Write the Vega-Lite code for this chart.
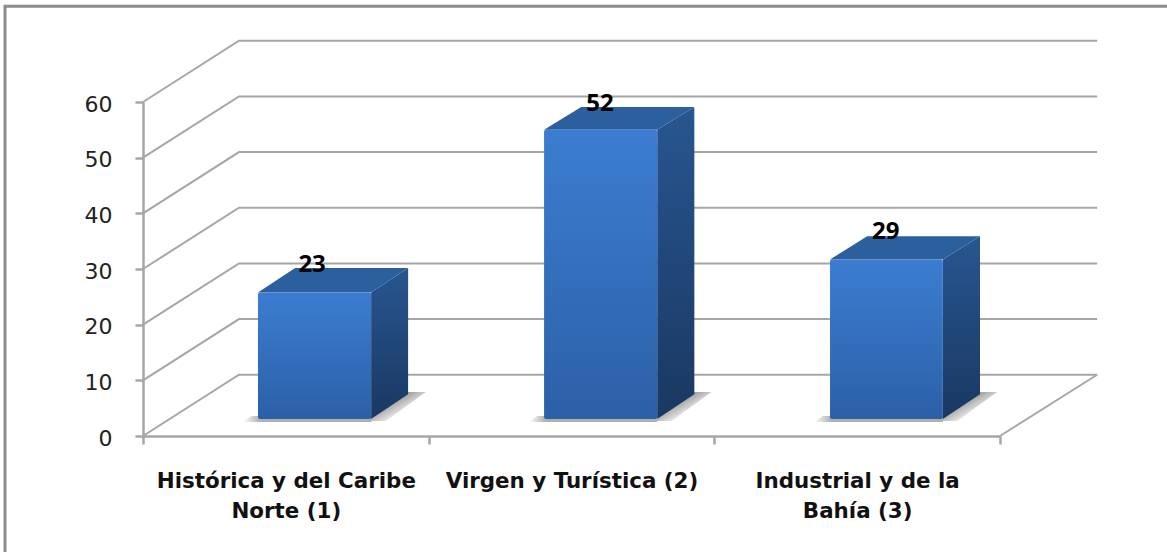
{
"$schema":"https://vega.github.io/schema/vega-lite/v6.json",
"autosize":{"type":"none"},
"padding":{"left":143,"top":102,"right":167,"bottom":116},
"width":857,"height":334,
"background":"white",
"config":{"view":{"stroke":null}},
"layer":[
{"data":{"values":[{"x":-0.483,"y":-21,"o":1},{"x":-0.483,"y":77.2,"o":2},{"x":3.6,"y":77.2,"o":3}]},
 "mark":{"type":"line","color":"#8c8c8c","strokeWidth":3,"clip":false},
 "encoding":{"x":{"field":"x","type":"quantitative","scale":{"domain":[0,3],"nice":false},"title":null,
   "axis":{"values":[0,0.5,1,1.5,2,2.5,3],"grid":false,"domainColor":"#a6a6a6","domainWidth":2.5,"tickColor":"#a6a6a6","tickWidth":2.5,"tickSize":8,
     "tickOpacity":{"condition":{"test":"datum.value % 1 == 0","value":1},"value":0},
     "labelExpr":"datum.value==0.5?['Histórica y del Caribe','Norte (1)']:datum.value==1.5?['Virgen y Turística (2)']:datum.value==2.5?['Industrial y de la','Bahía (3)']:''",
     "labelFont":"DejaVu Sans","labelFontWeight":"bold","labelFontSize":21.4,"labelColor":"#111111","labelAngle":0,"labelAlign":"center","labelBaseline":"top","labelPadding":26,"labelLineHeight":30,"labelLimit":600,"labelOverlap":false,"labelFlush":false,"labelBound":false}},
  "y":{"field":"y","type":"quantitative","scale":{"domain":[0,60],"nice":false},"title":null,
   "axis":{"values":[0,10,20,30,40,50,60],"grid":false,"domainColor":"#a6a6a6","domainWidth":2.5,"tickColor":"#a6a6a6","tickWidth":2.5,"tickSize":8,
     "labelFont":"DejaVu Sans","labelFontSize":22,"labelColor":"#222222","labelPadding":23,"labelOffset":2}},
  "order":{"field":"o"}}},
{"data":{"values":[
 {"v":0,"x":0,"y":0,"o":1},{"v":0,"x":0.336,"y":11,"o":2},{"v":0,"x":3.34,"y":11,"o":3},
 {"v":10,"x":0,"y":10,"o":1},{"v":10,"x":0.336,"y":21,"o":2},{"v":10,"x":3.34,"y":21,"o":3},
 {"v":20,"x":0,"y":20,"o":1},{"v":20,"x":0.336,"y":31,"o":2},{"v":20,"x":3.34,"y":31,"o":3},
 {"v":30,"x":0,"y":30,"o":1},{"v":30,"x":0.336,"y":41,"o":2},{"v":30,"x":3.34,"y":41,"o":3},
 {"v":40,"x":0,"y":40,"o":1},{"v":40,"x":0.336,"y":51,"o":2},{"v":40,"x":3.34,"y":51,"o":3},
 {"v":50,"x":0,"y":50,"o":1},{"v":50,"x":0.336,"y":61,"o":2},{"v":50,"x":3.34,"y":61,"o":3},
 {"v":60,"x":0,"y":60,"o":1},{"v":60,"x":0.336,"y":71,"o":2},{"v":60,"x":3.34,"y":71,"o":3},
 {"v":-1,"x":3,"y":0,"o":1},{"v":-1,"x":3.34,"y":11,"o":2}
]},
 "mark":{"type":"line","color":"#a6a6a6","strokeWidth":2},
 "encoding":{"x":{"field":"x","type":"quantitative","title":null},"y":{"field":"y","type":"quantitative","title":null},"detail":{"field":"v"},"order":{"field":"o"}}},
{"data":{"values":[
 {"b":1,"y":2.7,"xl":0.79,"xr":0.85},{"b":1,"y":7.9,"xl":0.92,"xr":0.99},
 {"b":2,"y":2.7,"xl":1.79,"xr":1.85},{"b":2,"y":7.9,"xl":1.92,"xr":1.99},
 {"b":3,"y":2.7,"xl":2.79,"xr":2.85},{"b":3,"y":7.9,"xl":2.92,"xr":2.99}
]},
 "mark":{"type":"area","orient":"horizontal","color":{"gradient":"linear","x1":0.3,"y1":0.35,"x2":0.72,"y2":0.72,"stops":[{"offset":0,"color":"#8f8f8f"},{"offset":0.5,"color":"#c8c8c8"},{"offset":1,"color":"#ffffff"}]}},
 "encoding":{"y":{"field":"y","type":"quantitative","title":null},"x":{"field":"xl","type":"quantitative","title":null},"x2":{"field":"xr"},"detail":{"field":"b"}}},
{"data":{"values":[
 {"b":1,"y":2.5,"xl":0.35,"xr":0.8},{"b":1,"y":3.6,"xl":0.38,"xr":0.8},
 {"b":2,"y":2.5,"xl":1.35,"xr":1.8},{"b":2,"y":3.6,"xl":1.38,"xr":1.8},
 {"b":3,"y":2.5,"xl":2.35,"xr":2.8},{"b":3,"y":3.6,"xl":2.38,"xr":2.8}
]},
 "mark":{"type":"area","orient":"horizontal","color":{"gradient":"linear","x1":0,"y1":0,"x2":0.13,"y2":0,"stops":[{"offset":0,"color":"#ffffff"},{"offset":1,"color":"#b0b0b0"}]}},
 "encoding":{"y":{"field":"y","type":"quantitative","title":null},"x":{"field":"xl","type":"quantitative","title":null},"x2":{"field":"xr"},"detail":{"field":"b"}}},
{"data":{"values":[
 {"b":1,"x":0.7985,"lo":3.05,"hi":25.8},{"b":1,"x":0.928,"lo":7.5,"hi":30.2},
 {"b":2,"x":1.8,"lo":3.05,"hi":55},{"b":2,"x":1.93,"lo":7.5,"hi":59.1},
 {"b":3,"x":2.8,"lo":3.05,"hi":31.7},{"b":3,"x":2.93,"lo":7.5,"hi":35.9}
]},
 "mark":{"type":"area","color":{"gradient":"linear","x1":0,"y1":0,"x2":0,"y2":1,"stops":[{"offset":0,"color":"#285690"},{"offset":1,"color":"#1a3862"}]}},
 "encoding":{"x":{"field":"x","type":"quantitative","title":null},"y":{"field":"lo","type":"quantitative","title":null},"y2":{"field":"hi"},"detail":{"field":"b"}}},
{"data":{"values":[
 {"b":1,"y":25.8,"xl":0.4025,"xr":0.7985},{"b":1,"y":30.2,"xl":0.5325,"xr":0.928},
 {"b":2,"y":55,"xl":1.404,"xr":1.8},{"b":2,"y":59.1,"xl":1.534,"xr":1.93},
 {"b":3,"y":31.7,"xl":2.405,"xr":2.8},{"b":3,"y":35.9,"xl":2.535,"xr":2.93}
]},
 "mark":{"type":"area","orient":"horizontal","color":"#2c5f9e"},
 "encoding":{"y":{"field":"y","type":"quantitative","title":null},"x":{"field":"xl","type":"quantitative","title":null},"x2":{"field":"xr"},"detail":{"field":"b"}}},
{"data":{"values":[
 {"xl":0.4025,"xr":0.7985,"lo":3.05,"hi":25.8},
 {"xl":1.404,"xr":1.8,"lo":3.05,"hi":55},
 {"xl":2.405,"xr":2.8,"lo":3.05,"hi":31.7}
]},
 "mark":{"type":"rect","cornerRadius":2,"color":{"gradient":"linear","x1":0,"y1":0,"x2":0,"y2":1,"stops":[{"offset":0,"color":"#3c7dd1"},{"offset":1,"color":"#2b60a7"}]}},
 "encoding":{"x":{"field":"xl","type":"quantitative","title":null},"x2":{"field":"xr"},"y":{"field":"hi","type":"quantitative","title":null},"y2":{"field":"lo"}}},
{"data":{"values":[
 {"value":23,"x":0.592,"y":30.7},{"value":52,"x":1.6,"y":59.7},{"value":29,"x":2.6,"y":36.7}
]},
 "mark":{"type":"text","font":"Open Sans","fontWeight":"bold","fontSize":24,"color":"#000000","align":"center","baseline":"middle"},
 "encoding":{"x":{"field":"x","type":"quantitative","title":null},"y":{"field":"y","type":"quantitative","title":null},"text":{"field":"value","type":"quantitative"}}}
]
}
